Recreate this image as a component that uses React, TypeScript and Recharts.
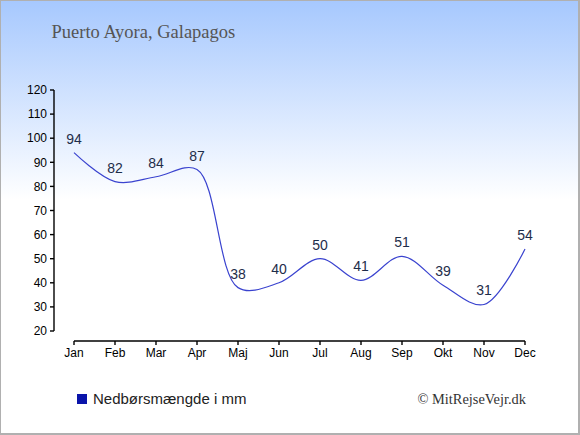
import React from "react"
import { LineChart, Line, XAxis, YAxis, LabelList, Customized } from "recharts"

const months = ["Jan", "Feb", "Mar", "Apr", "Maj", "Jun", "Jul", "Aug", "Sep", "Okt", "Nov", "Dec"]
const rainfall = [94, 82, 84, 87, 38, 40, 50, 41, 51, 39, 31, 54]
const yTicks = [20, 30, 40, 50, 60, 70, 80, 90, 100, 110, 120]

const chartData = months.map((month, i) => ({ month, rain: rainfall[i] }))

const W = 580
const H = 435
const MARGIN = { top: 90, right: 55, bottom: 64, left: 14 }
const Y_AXIS_W = 40
const X_AXIS_H = 30
const PAD_X = 20
const PAD_Y = 10

const plotLeft = MARGIN.left + Y_AXIS_W
const plotRight = W - MARGIN.right
const plotTop = MARGIN.top
const plotBottom = H - MARGIN.bottom - X_AXIS_H

const sans = "'Liberation Sans', Arial, sans-serif"
const serif = "'Liberation Serif', 'Times New Roman', serif"

// centripetal catmull-rom (alpha 0.5), same maths as d3's curveCatmullRom
function catmullRomCurve(context: any) {
  const alpha = 0.5
  const eps = 1e-12
  let x0 = NaN, y0 = NaN, x1 = NaN, y1 = NaN, x2 = NaN, y2 = NaN
  let l01a = 0, l12a = 0, l23a = 0, l01_2a = 0, l12_2a = 0, l23_2a = 0
  let n = 0
  let line = NaN

  const seg = (x: number, y: number) => {
    let cx1 = x1, cy1 = y1, cx2 = x2, cy2 = y2
    if (l01a > eps) {
      const a = 2 * l01_2a + 3 * l01a * l12a + l12_2a
      const m = 3 * l01a * (l01a + l12a)
      cx1 = (x1 * a - x0 * l12_2a + x2 * l01_2a) / m
      cy1 = (y1 * a - y0 * l12_2a + y2 * l01_2a) / m
    }
    if (l23a > eps) {
      const b = 2 * l23_2a + 3 * l23a * l12a + l12_2a
      const m = 3 * l23a * (l23a + l12a)
      cx2 = (x2 * b + x1 * l23_2a - x * l12_2a) / m
      cy2 = (y2 * b + y1 * l23_2a - y * l12_2a) / m
    }
    context.bezierCurveTo(cx1, cy1, cx2, cy2, x2, y2)
  }

  const curve = {
    areaStart() { line = 0 },
    areaEnd() { line = NaN },
    lineStart() {
      x0 = x1 = x2 = y0 = y1 = y2 = NaN
      l01a = l12a = l23a = l01_2a = l12_2a = l23_2a = 0
      n = 0
    },
    lineEnd() {
      if (n === 2) context.lineTo(x2, y2)
      else if (n === 3) curve.point(x2, y2)
      if (line || (line !== 0 && n === 1)) context.closePath()
      line = 1 - line
    },
    point(px: number, py: number) {
      const x = +px, y = +py
      if (n) {
        const dx = x2 - x, dy = y2 - y
        l23_2a = Math.pow(dx * dx + dy * dy, alpha)
        l23a = Math.sqrt(l23_2a)
      }
      if (n === 0) {
        n = 1
        line ? context.lineTo(x, y) : context.moveTo(x, y)
      } else if (n === 1) {
        n = 2
      } else {
        n = 3
        seg(x, y)
      }
      l01a = l12a; l12a = l23a
      l01_2a = l12_2a; l12_2a = l23_2a
      x0 = x1; x1 = x2; x2 = x
      y0 = y1; y1 = y2; y2 = y
    },
  }
  return curve
}

function AxisLines() {
  return (
    <g>
      <line x1={plotLeft} y1={plotTop} x2={plotLeft} y2={plotBottom - PAD_Y} stroke="#000" strokeWidth={1.4} />
      <line x1={plotLeft + PAD_X} y1={plotBottom} x2={plotRight} y2={plotBottom} stroke="#000" strokeWidth={1.4} />
    </g>
  )
}

export default function App() {
  return (
    <div
      style={{
        position: "absolute",
        left: 0,
        top: 0,
        width: W,
        height: H,
        background: "linear-gradient(180deg, #a6c8fe 0px, #ffffff 200px, #ffffff 100%)",
        boxShadow: "inset 1px 1px 0 #b0b0b0, inset -2px -2px 0 #b0b0b0",
        fontFamily: sans,
      }}
    >
      <LineChart width={W} height={H} data={chartData} margin={MARGIN} style={{ position: "absolute", left: 0, top: 0 }}>
        <XAxis
          dataKey="month"
          scale="point"
          padding={{ left: PAD_X, right: 0 }}
          height={X_AXIS_H}
          interval={0}
          axisLine={false}
          tickLine={{ stroke: "#000", strokeWidth: 1.4 }}
          tickSize={4}
          tickMargin={3}
          tick={{ fill: "#000", fontSize: 12, fontFamily: sans }}
        />
        <YAxis
          type="number"
          domain={[20, 120]}
          ticks={yTicks}
          interval={0}
          padding={{ top: 0, bottom: PAD_Y }}
          width={Y_AXIS_W}
          axisLine={false}
          tickLine={{ stroke: "#000", strokeWidth: 1.4 }}
          tickSize={4}
          tickMargin={3}
          tick={{ fill: "#000", fontSize: 12, fontFamily: sans }}
        />
        <Customized component={AxisLines} />
        <Line
          type={catmullRomCurve as any}
          dataKey="rain"
          stroke="#3a43cf"
          strokeWidth={1.2}
          dot={false}
          activeDot={false}
          isAnimationActive={false}
        >
          <LabelList dataKey="rain" position="top" offset={9} fill="#1e2d4a" fontSize={14} fontFamily={sans} />
        </Line>
      </LineChart>
      <svg width={W} height={H} style={{ position: "absolute", left: 0, top: 0, pointerEvents: "none" }}>
        <text x={51.5} y={37.5} fontFamily={serif} fontSize={18.5} fill="#555">
          Puerto Ayora, Galapagos
        </text>
        <rect x={77} y={394} width={10} height={10} fill="#0a14aa" />
        <text x={93} y={404} fontFamily={sans} fontSize={15} fill="#222">
          Nedbørsmængde i mm
        </text>
        <text x={526} y={404} textAnchor="end" fontFamily={serif} fontSize={14.4} fill="#333">
          © MitRejseVejr.dk
        </text>
      </svg>
    </div>
  )
}
